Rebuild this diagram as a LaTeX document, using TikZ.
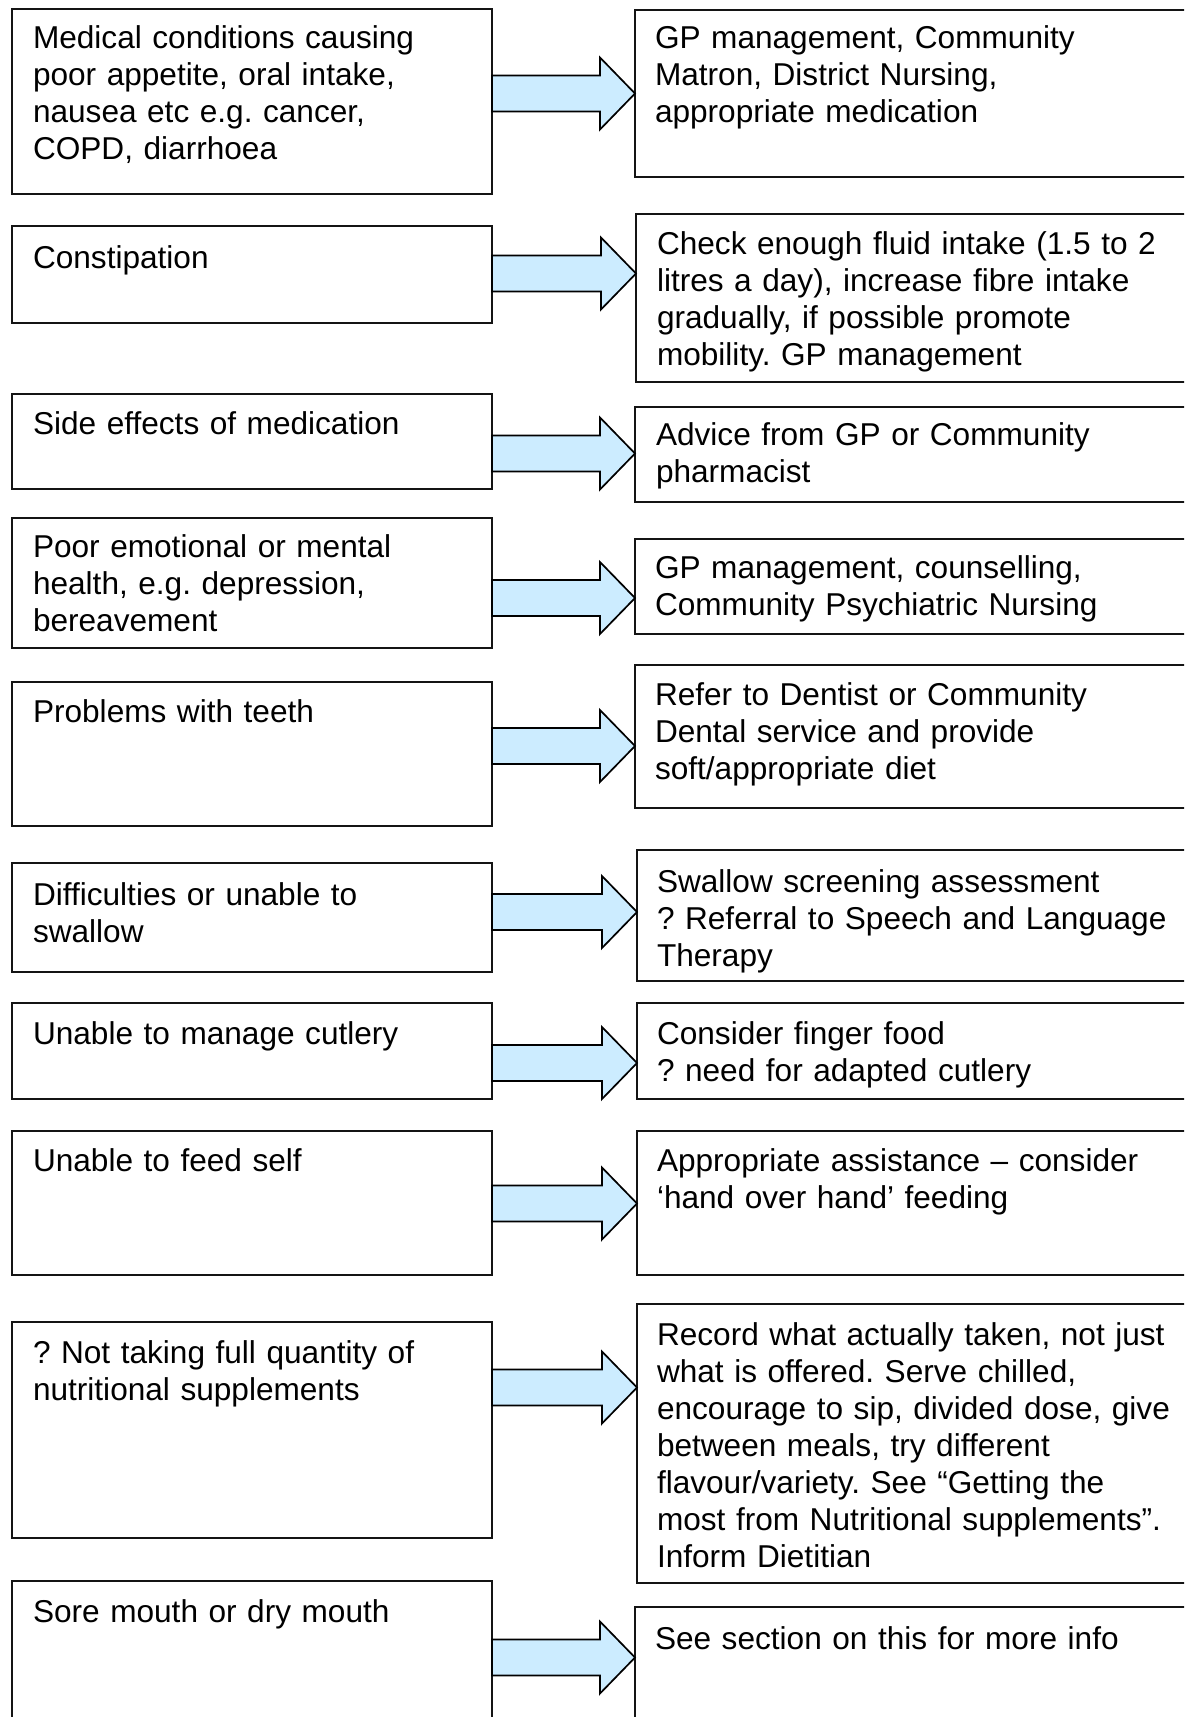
\documentclass[tikz,border=0pt]{standalone}
\usepackage{fontspec}
\setmainfont{Liberation Sans}
\usetikzlibrary{calc}
\definecolor{arrowfill}{RGB}{204,236,255}
\definecolor{boxline}{RGB}{20,20,20}
\tikzset{
  box/.style={draw=boxline, line width=1.8pt, anchor=north west, inner sep=0pt, outer sep=0pt},
  txt/.style={anchor=base west, inner sep=0pt, outer sep=0pt, align=left, text width=#1,
    font=\fontsize{31.6}{37}\selectfont\frenchspacing},
  txt/.default=560pt,
  barrow/.style={draw=black, line width=1.7pt, fill=arrowfill, line join=miter},
}
\newcommand{\blockarrow}[2]{\draw[barrow] ($(#1)+(0,-18)$) -- ($(#2)+(-35,-18)$) -- ($(#2)+(-35,-36)$) -- (#2) -- ($(#2)+(-35,36)$) -- ($(#2)+(-35,18)$) -- ($(#1)+(0,18)$) -- cycle;}
\newcommand{\lbox}[3]{\node[box, minimum width=480pt, minimum height=#3pt-#2pt] (#1) at (12,#2) {};}
\newcommand{\rbox}[4]{\node[box, minimum width=1200pt-#2pt, minimum height=#4pt-#3pt] (#1) at (#2,#3) {};}
\begin{document}
\frenchspacing
\begin{tikzpicture}[x=1pt,y=-1pt]
\fill[white] (0,0) rectangle (1184,1717);
\useasboundingbox (0,0) rectangle (1184,1717);
\clip (0,0) rectangle (1184,1717);
% left boxes
\lbox{L1}{9}{194}
\lbox{L2}{226}{323}
\lbox{L3}{394}{489}
\lbox{L4}{518}{648}
\lbox{L5}{682}{826}
\lbox{L6}{863}{972}
\lbox{L7}{1003}{1099}
\lbox{L8}{1131}{1275}
\lbox{L9}{1322}{1538}
\lbox{L10}{1581}{1740}
% right boxes
\rbox{R1}{635}{10}{177}
\rbox{R2}{636}{214}{382}
\rbox{R3}{635}{407}{502}
\rbox{R4}{635}{539}{634}
\rbox{R5}{635}{665}{808}
\rbox{R6}{637}{850}{981}
\rbox{R7}{637}{1003}{1099}
\rbox{R8}{637}{1131}{1275}
\rbox{R9}{637}{1304}{1583}
\rbox{R10}{635}{1607}{1760}
% texts
\node[txt=440pt] (tL1) at (33,48) {Medical conditions causing\\poor appetite, oral intake,\\nausea etc e.g. cancer,\\COPD, diarrhoea};
\node[txt] (tR1) at (655,48) {GP management, Community\\Matron, District Nursing,\\appropriate medication};
\node[txt=440pt] (tL2) at (33,268) {Constipation};
\node[txt] (tR2) at (657,254) {Check enough fluid intake (1.5 to 2\\litres a day), increase fibre intake\\gradually, if possible promote\\mobility. GP management};
\node[txt=440pt] (tL3) at (33,434) {Side effects of medication};
\node[txt] (tR3) at (656,445) {Advice from GP or Community\\pharmacist};
\node[txt=440pt] (tL4) at (33,557) {Poor emotional or mental\\health, e.g. depression,\\bereavement};
\node[txt] (tR4) at (655,578) {GP management, counselling,\\Community Psychiatric Nursing};
\node[txt=440pt] (tL5) at (33,722) {Problems with teeth};
\node[txt] (tR5) at (655,705) {Refer to Dentist or Community\\Dental service and provide\\soft/appropriate diet};
\node[txt=440pt] (tL6) at (33,905) {Difficulties or unable to\\swallow};
\node[txt] (tR6) at (657,892) {Swallow screening assessment\\? Referral to Speech and Language\\Therapy};
\node[txt=440pt] (tL7) at (33,1044) {Unable to manage cutlery};
\node[txt] (tR7) at (657,1044) {Consider finger food\\? need for adapted cutlery};
\node[txt=440pt] (tL8) at (33,1171) {Unable to feed self};
\node[txt] (tR8) at (657,1171) {Appropriate assistance – consider\\‘hand over hand’ feeding};
\node[txt=440pt] (tL9) at (33,1363) {? Not taking full quantity of\\nutritional supplements};
\node[txt] (tR9) at (657,1345) {Record what actually taken, not just\\what is offered. Serve chilled,\\encourage to sip, divided dose, give\\between meals, try different\\flavour/variety. See “Getting the\\most from Nutritional supplements”.\\Inform Dietitian};
\node[txt=440pt] (tL10) at (33,1622) {Sore mouth or dry mouth};
\node[txt] (tR10) at (655,1649) {See section on this for more info};
% arrow end points
\coordinate (a1s) at (L1.east |- 0,93.5);   \coordinate (a1e) at (R1.west |- 0,93.5);
\coordinate (a2s) at (L2.east |- 0,273.5);  \coordinate (a2e) at (R2.west |- 0,273.5);
\coordinate (a3s) at (L3.east |- 0,453.5);  \coordinate (a3e) at (R3.west |- 0,453.5);
\coordinate (a4s) at (L4.east |- 0,598);    \coordinate (a4e) at (R4.west |- 0,598);
\coordinate (a5s) at (L5.east |- 0,746);    \coordinate (a5e) at (R5.west |- 0,746);
\coordinate (a6s) at (L6.east |- 0,912);    \coordinate (a6e) at (R6.west |- 0,912);
\coordinate (a7s) at (L7.east |- 0,1063);   \coordinate (a7e) at (R7.west |- 0,1063);
\coordinate (a8s) at (L8.east |- 0,1203.5); \coordinate (a8e) at (R8.west |- 0,1203.5);
\coordinate (a9s) at (L9.east |- 0,1387.5); \coordinate (a9e) at (R9.west |- 0,1387.5);
\coordinate (a10s) at (L10.east |- 0,1657.5); \coordinate (a10e) at (R10.west |- 0,1657.5);
\blockarrow{a1s}{a1e}
\blockarrow{a2s}{a2e}
\blockarrow{a3s}{a3e}
\blockarrow{a4s}{a4e}
\blockarrow{a5s}{a5e}
\blockarrow{a6s}{a6e}
\blockarrow{a7s}{a7e}
\blockarrow{a8s}{a8e}
\blockarrow{a9s}{a9e}
\blockarrow{a10s}{a10e}
\end{tikzpicture}
\end{document}
